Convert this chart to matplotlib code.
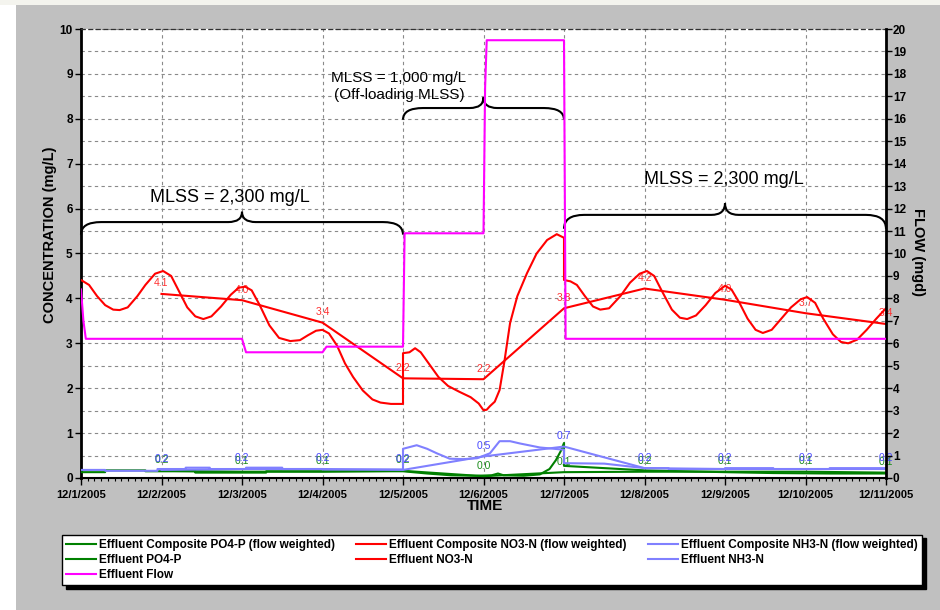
import matplotlib
matplotlib.use("Agg")
import matplotlib.pyplot as plt
from matplotlib.path import Path
from matplotlib.patches import PathPatch, Rectangle
from matplotlib.lines import Line2D
from matplotlib.ticker import MultipleLocator

plt.rcParams['font.family'] = ['Liberation Sans', 'DejaVu Sans']
NARROW = ['Liberation Sans Narrow', 'Liberation Sans', 'DejaVu Sans']

# x = days after 12/1/2005
date_labels = ["12/1/2005", "12/2/2005", "12/3/2005", "12/4/2005", "12/5/2005", "12/6/2005",
               "12/7/2005", "12/8/2005", "12/9/2005", "12/10/2005", "12/11/2005"]

# daily composites (flow weighted), sampled at 12/2 .. 12/11
comp_days = [1, 2, 3, 4, 5, 6, 7, 8, 9, 10]
comp_no3 = [4.10, 3.96, 3.46, 2.22, 2.20, 3.78, 4.22, 3.97, 3.67, 3.43]
comp_no3_lbl = ["4.1", "4.0", "3.4", "2.2", "2.2", "3.8", "4.2", "4.0", "3.7", "3.4"]
comp_nh3 = [0.18, 0.20, 0.20, 0.18, 0.48, 0.70, 0.22, 0.20, 0.20, 0.20]
comp_nh3_lbl = ["0.2", "0.2", "0.2", "0.2", "0.5", "0.7", "0.2", "0.2", "0.2", "0.2"]
comp_po4 = [0.16, 0.14, 0.14, 0.16, 0.04, 0.13, 0.14, 0.14, 0.14, 0.12]
comp_po4_lbl = ["0.2", "0.1", "0.1", "0.2", "0.0", "0.1", "0.2", "0.1", "0.1", "0.1"]

# effluent NO3-N
no3_t = [0.00, 0.10, 0.20, 0.30, 0.40, 0.48, 0.58, 0.70, 0.80, 0.92, 1.02, 1.12, 1.22, 1.32,
         1.42, 1.52, 1.62, 1.74, 1.86, 1.96, 2.04, 2.12, 2.22, 2.34, 2.46, 2.60, 2.72, 2.82,
         2.92, 3.00, 3.08, 3.18, 3.28, 3.38, 3.50, 3.62, 3.72, 3.85, 4.00, 4.00, 4.08, 4.15,
         4.22, 4.32, 4.44, 4.56, 4.70, 4.84, 4.94, 5.00, 5.04, 5.08, 5.14, 5.20, 5.26, 5.33,
         5.42, 5.54, 5.66, 5.79, 5.91, 6.00, 6.00, 6.08, 6.16, 6.26, 6.36, 6.45, 6.56, 6.70,
         6.82, 6.94, 7.03, 7.12, 7.22, 7.34, 7.44, 7.53, 7.64, 7.76, 7.88, 8.00, 8.08, 8.18,
         8.28, 8.38, 8.47, 8.58, 8.70, 8.82, 8.94, 9.02, 9.12, 9.22, 9.34, 9.44, 9.53, 9.64,
         9.76, 9.88, 10.00]
no3_v = [4.41, 4.30, 4.05, 3.85, 3.75, 3.74, 3.80, 4.05, 4.30, 4.55, 4.61, 4.50, 4.15, 3.80,
         3.60, 3.54, 3.60, 3.82, 4.08, 4.24, 4.26, 4.18, 3.85, 3.40, 3.12, 3.05, 3.07, 3.18,
         3.28, 3.30, 3.22, 2.95, 2.55, 2.25, 1.95, 1.75, 1.68, 1.65, 1.65, 2.78, 2.80, 2.89,
         2.80, 2.55, 2.25, 2.05, 1.92, 1.80, 1.66, 1.51, 1.52, 1.60, 1.70, 1.96, 2.60, 3.45,
         4.05, 4.56, 5.00, 5.30, 5.43, 5.35, 4.41, 4.38, 4.30, 4.05, 3.82, 3.75, 3.78, 4.05,
         4.35, 4.55, 4.61, 4.50, 4.15, 3.75, 3.57, 3.54, 3.62, 3.85, 4.12, 4.28, 4.20, 3.90,
         3.55, 3.30, 3.23, 3.30, 3.55, 3.80, 3.98, 4.03, 3.90, 3.55, 3.20, 3.03, 3.00, 3.08,
         3.30, 3.55, 3.78]

# effluent NH3-N
nh3_t = [0.00, 0.30, 0.30, 0.95, 0.95, 1.30, 1.30, 1.60, 1.60, 2.05, 2.05, 2.50, 2.50, 3.00,
         3.00, 4.00, 4.00, 4.17, 4.30, 4.42, 4.58, 4.75, 4.92, 5.08, 5.20, 5.33, 5.45, 5.70,
         6.00, 6.00, 6.50, 7.00, 7.30, 7.30, 8.00, 8.00, 8.60, 8.60, 9.30, 9.30, 10.00]
nh3_v = [0.18, 0.18, 0.16, 0.16, 0.20, 0.20, 0.23, 0.23, 0.20, 0.20, 0.23, 0.23, 0.20, 0.20,
         0.19, 0.19, 0.65, 0.73, 0.65, 0.55, 0.43, 0.42, 0.44, 0.55, 0.82, 0.82, 0.77, 0.68,
         0.63, 0.33, 0.32, 0.22, 0.22, 0.20, 0.20, 0.22, 0.22, 0.20, 0.20, 0.22, 0.22]

# effluent PO4-P
po4_t = [0.00, 0.30, 0.30, 0.80, 0.80, 1.42, 1.42, 2.30, 2.30, 4.00, 4.30, 4.60, 4.90, 5.10,
         5.18, 5.25, 5.50, 5.70, 5.82, 5.90, 5.96, 6.00, 6.00, 6.50, 7.00, 7.50, 8.00, 8.60,
         9.30, 10.00]
po4_v = [0.13, 0.13, 0.17, 0.17, 0.15, 0.15, 0.12, 0.12, 0.15, 0.15, 0.10, 0.06, 0.05, 0.06,
         0.10, 0.06, 0.05, 0.08, 0.20, 0.40, 0.60, 0.78, 0.27, 0.22, 0.17, 0.15, 0.13, 0.11,
         0.10, 0.10]

# effluent flow (mgd)
flow_t = [0.00, 0.03, 0.06, 2.00, 2.05, 3.00, 3.05, 4.00, 4.02, 5.00, 5.02, 5.04, 6.00, 6.02, 10.00]
flow_v = [8.4, 7.0, 6.2, 6.2, 5.6, 5.6, 5.85, 5.85, 10.9, 10.9, 17.4, 19.5, 19.5, 6.2, 6.2]

GREEN, RED, BLUE, MAG = '#008000', '#ff0000', '#8080ff', '#ff00ff'

fig = plt.figure(figsize=(9.4, 6.1), dpi=100, facecolor='#c0c0c0')
fig.patches.append(Rectangle((0, 0), 16 / 940, 1, transform=fig.transFigure,
                             facecolor='white', edgecolor='none', zorder=-5))
fig.patches.append(Rectangle((0, 1 - 5 / 610), 1, 5 / 610, transform=fig.transFigure,
                             facecolor='#f4f4ee', edgecolor='none', zorder=-5))

ax = fig.add_axes([81 / 940, 132 / 610, 805 / 940, 449 / 610])
ax.set_facecolor('white')
ax.set_xlim(0, 10)
ax.set_ylim(0, 10)

ax.plot(po4_t, po4_v, color=GREEN, lw=1.5, zorder=3)
ax.plot(comp_days, comp_po4, color=GREEN, lw=1.5, zorder=3)
ax.plot(nh3_t, nh3_v, color=BLUE, lw=1.5, zorder=3)
ax.plot(comp_days, comp_nh3, color=BLUE, lw=1.5, zorder=3)
ax.plot(no3_t, no3_v, color=RED, lw=1.5, zorder=3)
ax.plot(comp_days, comp_no3, color=RED, lw=1.5, zorder=3)

for d, v, s in zip(comp_days, comp_no3, comp_no3_lbl):
    ax.annotate(s, (d, v), xytext=(0, 4), textcoords='offset points', ha='center',
                va='bottom', fontsize=7.5, color='#ff3030', zorder=2)
for d, v, s in zip(comp_days, comp_po4, comp_po4_lbl):
    ax.annotate(s, (d, v), xytext=(0, 4), textcoords='offset points', ha='center',
                va='bottom', fontsize=7.5, color='#1a8c1a', zorder=2)
for d, v, s in zip(comp_days, comp_nh3, comp_nh3_lbl):
    ax.annotate(s, (d, v), xytext=(0, 4), textcoords='offset points', ha='center',
                va='bottom', fontsize=7.5, color='#4848ff', zorder=2)


def brace(x0, x1, xm, y_end, y_flat, y_tip, r=0.25, r2=0.17):
    verts = [(x0, y_end), (x0, y_flat), (x0 + r, y_flat),
             (xm - r2, y_flat), (xm, y_flat), (xm, y_tip),
             (xm, y_flat), (xm + r2, y_flat),
             (x1 - r, y_flat), (x1, y_flat), (x1, y_end)]
    codes = [Path.MOVETO, Path.CURVE3, Path.CURVE3, Path.LINETO, Path.CURVE3, Path.CURVE3,
             Path.CURVE3, Path.CURVE3, Path.LINETO, Path.CURVE3, Path.CURVE3]
    ax.add_patch(PathPatch(Path(verts, codes), facecolor='none', edgecolor='black',
                           lw=1.5, zorder=4, clip_on=False))


brace(0, 4, 2, 5.42, 5.70, 5.93)
brace(4, 6, 5, 7.98, 8.24, 8.48)
brace(6, 10, 8, 5.55, 5.86, 6.12)
ax.text(1.85, 6.24, "MLSS = 2,300 mg/L", ha='center', va='center', fontsize=13)
ax.text(7.98, 6.64, "MLSS = 2,300 mg/L", ha='center', va='center', fontsize=13)
ax.text(3.95, 8.90, "MLSS = 1,000 mg/L", ha='center', va='center', fontsize=11)
ax.text(3.95, 8.53, "(Off-loading MLSS)", ha='center', va='center', fontsize=11)

ax.set_xticks(range(11))
ax.set_xticklabels(date_labels, fontfamily=NARROW, fontweight='bold', fontsize=8)
ax.xaxis.set_minor_locator(MultipleLocator(1 / 12))
ax.set_yticks(range(11))
ax.set_yticklabels([str(i) for i in range(11)], fontfamily=NARROW, fontweight='bold', fontsize=8.5)
ax.yaxis.set_minor_locator(MultipleLocator(0.5))
ax.tick_params(axis='x', which='major', length=5, width=1, pad=4)
ax.tick_params(axis='x', which='minor', length=2, width=0.8)
ax.tick_params(axis='y', which='major', length=4, width=1, pad=2)
ax.tick_params(axis='y', which='minor', length=0)
ax.grid(axis='x', which='major', linestyle=(0, (3, 3)), color='#8a8a8a', lw=0.8)
ax.grid(axis='y', which='both', linestyle=(0, (3, 3)), color='#8a8a8a', lw=0.8)
ax.set_axisbelow(True)
ax.spines['left'].set_linewidth(2)
ax.spines['bottom'].set_linewidth(1.5)
ax.spines['right'].set_visible(False)
ax.spines['top'].set_linestyle((0, (3, 3)))
ax.spines['top'].set_color('#303030')
ax.spines['top'].set_linewidth(0.9)

ax2 = ax.twinx()
ax2.plot(flow_t, flow_v, color=MAG, lw=1.5, zorder=3)
ax2.set_ylim(0, 20)
ax2.set_yticks(range(21))
ax2.set_yticklabels([str(i) for i in range(21)], fontfamily=NARROW, fontweight='bold', fontsize=8.5)
ax2.tick_params(axis='y', length=4, width=1, pad=1)
for s in ['left', 'top', 'bottom']:
    ax2.spines[s].set_visible(False)
ax2.spines['right'].set_linewidth(2)

fig.text(50 / 940, 1 - 235 / 610, "CONCENTRATION (mg/L)", rotation=90, ha='center',
         va='center', fontsize=10.5, fontweight='bold')
fig.text(918 / 940, 1 - 252 / 610, "FLOW (mgd)", rotation=270, ha='center',
         va='center', fontsize=10.5, fontweight='bold')
fig.text(485 / 940, 1 - 506 / 610, "TIME", ha='center', va='center', fontsize=11,
         fontweight='bold')

handles = [Line2D([], [], color=GREEN, lw=1.5), Line2D([], [], color=GREEN, lw=1.5),
           Line2D([], [], color=MAG, lw=1.5),
           Line2D([], [], color=RED, lw=1.5), Line2D([], [], color=RED, lw=1.5),
           Line2D([], [], color=BLUE, lw=1.5), Line2D([], [], color=BLUE, lw=1.5)]
names = ["Effluent Composite PO4-P (flow weighted)", "Effluent PO4-P", "Effluent Flow",
         "Effluent Composite NO3-N (flow weighted)", "Effluent NO3-N",
         "Effluent Composite NH3-N (flow weighted)", "Effluent NH3-N"]
leg = fig.legend(handles, names, ncol=3, loc='upper left', mode='expand',
                 bbox_to_anchor=(62 / 940, 1 - 583 / 610, 860 / 940, 48 / 610),
                 prop={'family': NARROW, 'weight': 'bold', 'size': 8.5},
                 frameon=True, fancybox=False, framealpha=1, edgecolor='black',
                 borderaxespad=0, borderpad=0.35, labelspacing=0.25, handlelength=2.5,
                 handletextpad=0.3, columnspacing=1.0,
                 shadow={'ox': 3, 'oy': -2.5, 'color': 'black', 'alpha': 1})
leg.get_frame().set_linewidth(1)

fig.savefig("out.png", dpi=100, facecolor=fig.get_facecolor())
